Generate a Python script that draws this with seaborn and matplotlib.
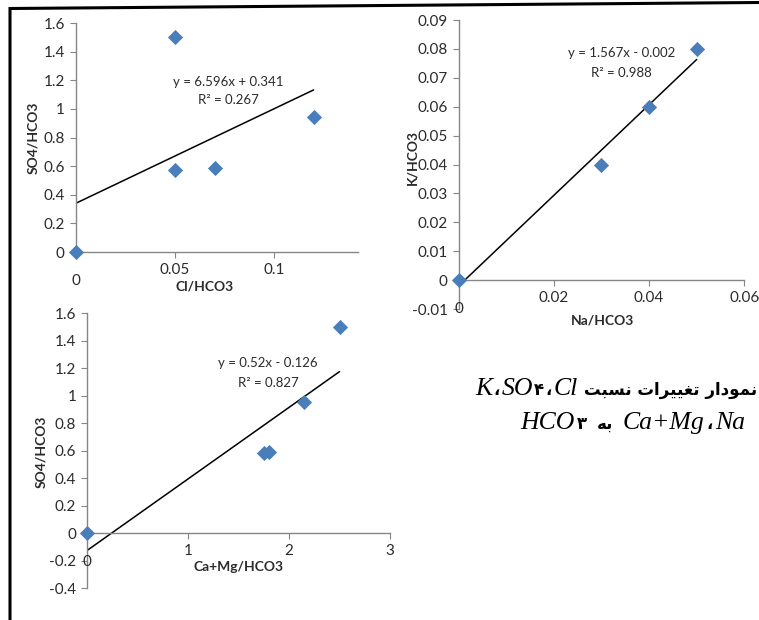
import numpy as np
import seaborn as sns
import matplotlib.pyplot as plt

# Cl/HCO3 against SO4/HCO3
cl_hco3 = [0, 0.05, 0.05, 0.07, 0.12]
so4_hco3_a = [0, 1.5, 0.575, 0.585, 0.945]
# Na/HCO3 against K/HCO3
na_hco3 = [0, 0.03, 0.04, 0.05]
k_hco3 = [0, 0.04, 0.06, 0.08]
# Ca+Mg/HCO3 against SO4/HCO3
camg_hco3 = [0, 1.75, 1.8, 2.15, 2.5]
so4_hco3_b = [0, 0.58, 0.59, 0.95, 1.5]

# trendlines as printed on the chart: slope, intercept
fit_a = (6.596, 0.341)
fit_b = (1.567, -0.002)
fit_c = (0.52, -0.126)
eq_a = ['y = 6.596x + 0.341', 'R² = 0.267']
eq_b = ['y = 1.567x - 0.002', 'R² = 0.988']
eq_c = ['y = 0.52x - 0.126', 'R² = 0.827']

xt_a = [0.05, 0.1]
xl_a = ['0.05', '0.1']
yt_a = [0, 0.2, 0.4, 0.6, 0.8, 1.0, 1.2, 1.4, 1.6]
yl_a = ['0', '0.2', '0.4', '0.6', '0.8', '1', '1.2', '1.4', '1.6']

xt_b = [0.02, 0.04, 0.06]
xl_b = ['0.02', '0.04', '0.06']
yt_b = [-0.01, 0, 0.01, 0.02, 0.03, 0.04, 0.05, 0.06, 0.07, 0.08, 0.09]
yl_b = ['-0.01', '0', '0.01', '0.02', '0.03', '0.04', '0.05', '0.06', '0.07', '0.08', '0.09']

xt_c = [1, 2, 3]
xl_c = ['1', '2', '3']
yt_c = [-0.4, -0.2, 0, 0.2, 0.4, 0.6, 0.8, 1.0, 1.2, 1.4, 1.6]
yl_c = ['-0.4', '-0.2', '0', '0.2', '0.4', '0.6', '0.8', '1', '1.2', '1.4', '1.6']

sns.set_theme(style='white')
plt.rcParams['font.family'] = ['Lato', 'DejaVu Sans']

BLUE = '#4A7EBB'
GREY = '#868686'
TXT = '#2b2b2b'

fig = plt.figure(figsize=(7.59, 6.2), dpi=100)


def panel(rect, x, y, fit, eq, eq_pos, xlim, ylim, xt, xl, yt, yl, xlab, ylab, xlab_pos, ylab_pos):
    ax = fig.add_axes(rect)
    sns.scatterplot(x=x, y=y, ax=ax, marker='D', s=60, color=BLUE, edgecolor=BLUE,
                    linewidth=0, clip_on=False, zorder=3)
    xs = np.array([min(x), max(x)])
    sns.lineplot(x=xs, y=fit[0] * xs + fit[1], ax=ax, color='black', linewidth=1.1, zorder=2)
    ax.set_xlim(xlim)
    ax.set_ylim(ylim)
    for s in ['top', 'right']:
        ax.spines[s].set_visible(False)
    ax.spines['bottom'].set_position(('data', 0))
    for s in ['left', 'bottom']:
        ax.spines[s].set_color(GREY)
        ax.spines[s].set_linewidth(1.0)
    ax.set_xticks(xt)
    ax.set_xticklabels(xl)
    ax.set_yticks(yt)
    ax.set_yticklabels(yl)
    ax.tick_params(axis='both', direction='out', length=4, width=0.8, color=GREY,
                   labelsize=11, labelcolor=TXT, pad=4, bottom=True, left=True)
    # Excel drops the zero of the x axis a bit lower
    ax.annotate('0', xy=(0, 0), xytext=(0, -21), textcoords='offset points',
                ha='center', va='center', fontsize=11, color=TXT, annotation_clip=False)
    ax.set_xlabel(xlab, fontsize=10, fontweight='bold', color=TXT)
    ax.set_ylabel(ylab, fontsize=10, fontweight='bold', color=TXT)
    ax.xaxis.set_label_coords(*xlab_pos)
    ax.yaxis.set_label_coords(*ylab_pos)
    ax.text(eq_pos[0], eq_pos[1], eq[0], transform=ax.transAxes, ha='center', va='center',
            fontsize=9.5, color=TXT)
    ax.text(eq_pos[0], eq_pos[2], eq[1], transform=ax.transAxes, ha='center', va='center',
            fontsize=9.5, color=TXT)
    ax.patch.set_alpha(0)
    return ax


panel([0.1001, 0.5935, 0.3715, 0.3694], cl_hco3, so4_hco3_a, fit_a, eq_a, (0.539, 0.742, 0.664),
      (0, 0.1424), (0, 1.6), xt_a, xl_a, yt_a, yl_a, 'Cl/HCO3', 'SO4/HCO3',
      (0.457, -0.125), (-0.131, 0.5))
panel([0.6043, 0.5016, 0.3763, 0.4661], na_hco3, k_hco3, fit_b, eq_b, (0.571, 0.886, 0.818),
      (0, 0.06), (-0.01, 0.09), xt_b, xl_b, yt_b, yl_b, 'Na/HCO3', 'K/HCO3',
      (0.502, -0.02), (-0.1425, 0.526))
panel([0.1150, 0.0516, 0.3988, 0.4435], camg_hco3, so4_hco3_b, fit_c, eq_c, (0.598, 0.819, 0.747),
      (0, 3), (-0.4, 1.6), xt_c, xl_c, yt_c, yl_c, 'Ca+Mg/HCO3', 'SO4/HCO3',
      (0.501, 0.1), (-0.133, 0.495))

# overlay in pixel units for the frame and the caption
tax = fig.add_axes([0, 0, 1, 1])
tax.set_xlim(0, 759)
tax.set_ylim(620, 0)
tax.axis('off')
tax.plot([10, 10, 759], [620, 8.5, 2.5], color='black', linewidth=2.2, solid_joinstyle='miter')

# Persian caption, glyphs given in visual order (right to left, already shaped)
w_chart = '\uFEAD\uFE8D\uFEA9\uFEEE\uFEE4\uFEE7'
w_changes = '\uFE95\uFE8D\uFEAE\uFEF4\uFEF4\uFED0\uFE97'
w_ratio = '\uFE96\uFE92\uFEB4\uFEE7'
w_to = '\uFEEA\uFE91'
comma = '\u060C'
# (text, kind, gap in px to the next piece on its left)
line1 = [(w_ratio + ' ' + w_changes + ' ' + w_chart, 'fa', 6), ('Cl', 'la', 2), (comma, 'fa', 1),
         ('\u06F4', 'fa', 1), ('SO', 'la', 2), (comma, 'fa', 1), ('K', 'la', 0)]
line2 = [('Na', 'la', 2), (comma, 'fa', 2), ('Ca+Mg', 'la', 10), (w_to, 'fa', 10),
         ('\u06F3', 'fa', 2), ('HCO', 'la', 0)]

fig.canvas.draw()
rend = fig.canvas.get_renderer()


def caption(pieces, x_right, y_base):
    x = x_right
    for s, kind, gap in pieces:
        if kind == 'la':
            kw = dict(family=['Liberation Serif'], style='italic', fontsize=18.5)
        else:
            kw = dict(family=['DejaVu Sans'], fontsize=12, fontweight='bold')
        t = tax.text(x, y_base, s, ha='right', va='baseline', color='black', **kw)
        x -= t.get_window_extent(rend).width + gap


caption(line1, 757, 395)
caption(line2, 745, 429)

fig.savefig('out.png', dpi=100)
